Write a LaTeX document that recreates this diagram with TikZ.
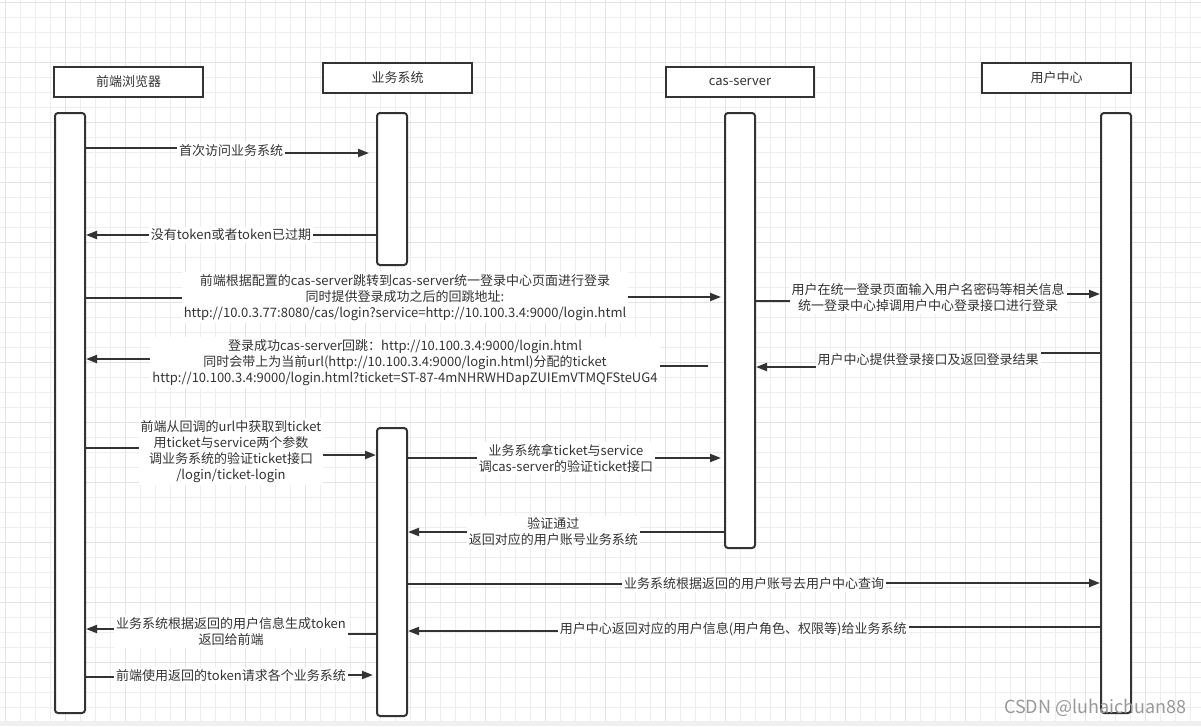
\documentclass[tikz,border=0pt]{standalone}
\usepackage{fontspec}
\setmainfont{Noto Sans CJK SC}
\usepackage{xcolor}
\usepackage{tikz}
\usetikzlibrary{arrows.meta,calc}
\definecolor{ink}{HTML}{333333}
\definecolor{gridmin}{HTML}{EEEEEE}
\definecolor{gridmaj}{HTML}{E3E3E3}
\tikzstyle{head}=[rectangle, draw=ink, fill=white, text=ink,% header box of a lifeline
line width=2pt, minimum width=149pt, minimum height=30pt, font=\fontsize{13}{16}\selectfont]
\tikzstyle{bar}=[rectangle, draw=ink, fill=white, rounded corners=3pt,% activation bar
line width=2pt, minimum width=30pt]
\tikzstyle{msg}=[-{Triangle[length=11pt,width=8pt]}, draw=ink, line width=2pt]
\tikzstyle{lbl}=[fill=white, text=ink, inner sep=2pt, align=center, font=\fontsize{13}{16}\selectfont]

\begin{document}
\begin{tikzpicture}[x=1pt,y=-1pt]
\useasboundingbox (0,0) rectangle (1201,726);
\fill[white] (0,0) rectangle (1201,726);
\foreach \gx in {5,20,...,1200} \draw[gridmin, line width=1pt] (\gx,0) -- (\gx,721);
\foreach \gy in {2,17,...,721} \draw[gridmin, line width=1pt] (0,\gy) -- (1201,\gy);
\foreach \gx in {5,65,...,1200} \draw[gridmaj, line width=1pt] (\gx,0) -- (\gx,721);
\foreach \gy in {2,62,...,721} \draw[gridmaj, line width=1pt] (0,\gy) -- (1201,\gy);
\fill[black!6] (0,721) rectangle (1201,726);
\node[head] (FE) at (128.5,82) {前端浏览器};
\node[head] (BS) at (397.5,77.5) {业务系统};
\node[head, minimum width=148pt] (CAS) at (740,82) {cas-server};
\node[head] (UC) at (1056.5,78) {用户中心};
\node[bar, minimum height=600pt] (feb) at (70,413) {};
\node[bar, minimum height=152pt] (bs1) at (392,189) {};
\node[bar, minimum height=288pt] (bs2) at (392,572) {};
\node[bar, minimum height=435pt] (casb) at (740,330.5) {};
\node[bar, minimum height=600pt] (ucb) at (1116,413) {};
\draw[msg, shorten >=7pt] (feb.east |- 0,148) -| ($(feb.east |- 0,148)!.5!(bs1.west |- 0,153)$)
  node[lbl] {首次访问业务系统} |- (bs1.west |- 0,153);
\draw[msg] (bs1.west |- 0,235) -- (feb.east |- 0,235)
  node[lbl, midway] {没有token或者token已过期};
\draw[msg, shorten >=3pt] (feb.east |- 0,298) -| ($(feb.east |- 0,298)!.5!(casb.west |- 0,297)$)
  node[lbl] {前端根据配置的cas-server跳转到cas-server统一登录中心页面进行登录\\同时提供登录成功之后的回跳地址:\\http://10.0.3.77:8080/cas/login?service=http://10.100.3.4:9000/login.html} |- (casb.west |- 0,297);
\draw[msg, shorten <=16pt] (casb.west |- 0,366) -| ($(casb.west |- 0,366)!.5!(feb.east |- 0,359)$)
  node[lbl] {登录成功cas-server回跳：http://10.100.3.4:9000/login.html\\同时会带上为当前url(http://10.100.3.4:9000/login.html)分配的ticket\\http://10.100.3.4:9000/login.html?ticket=ST-87-4mNHRWHDapZUIEmVTMQFSteUG4} |- (feb.east |- 0,359);
\draw[msg] (casb.east |- 0,301) -| ($(casb.east |- 0,301)!.5!(ucb.west |- 0,294)$)
  node[lbl] {用户在统一登录页面输入用户名密码等相关信息\\统一登录中心掉调用户中心登录接口进行登录} |- (ucb.west |- 0,294);
\draw[msg] (ucb.west |- 0,353) -| ($(ucb.west |- 0,353)!.5!(casb.east |- 0,367)$)
  node[lbl] {用户中心提供登录接口及返回登录结果} |- (casb.east |- 0,367);
\draw[msg] (feb.east |- 0,448) -| ($(feb.east |- 0,448)!.5!(bs2.west |- 0,455)$)
  node[lbl] {前端从回调的url中获取到ticket\\用ticket与service两个参数\\调业务系统的验证ticket接口\\/login/ticket-login} |- (bs2.west |- 0,455);
\draw[msg, shorten >=3pt] (bs2.east |- 0,458) -- (casb.west |- 0,458)
  node[lbl, midway] {业务系统拿ticket与service\\调cas-server的验证ticket接口};
\draw[msg] (casb.west |- 0,532) -- (bs2.east |- 0,532)
  node[lbl, pos=.54] {验证通过\\返回对应的用户账号业务系统};
\draw[msg] (bs2.east |- 0,584) -| ($(bs2.east |- 0,584)!.5!(ucb.west |- 0,583)$)
  node[lbl] {业务系统根据返回的用户账号去用户中心查询} |- (ucb.west |- 0,583);
\draw[msg] (ucb.west |- 0,627) -| ($(ucb.west |- 0,627)!.53!(bs2.east |- 0,631)$)
  node[lbl] {用户中心返回对应的用户信息(用户角色、权限等)给业务系统} |- (bs2.east |- 0,631);
\draw[msg] (bs2.west |- 0,634) -| ($(bs2.west |- 0,634)!.5!(feb.east |- 0,629)$)
  node[lbl] {业务系统根据返回的用户信息生成token\\返回给前端} |- (feb.east |- 0,629);
\draw[msg, shorten >=3pt] (feb.east |- 0,677) -| ($(feb.east |- 0,677)!.5!(bs2.west |- 0,675)$)
  node[lbl] {前端使用返回的token请求各个业务系统} |- (bs2.west |- 0,675);
\node[text=black!40, font=\fontsize{18}{20}\selectfont, anchor=east] (wm) at (1190,708) {CSDN @luhaichuan88};
\end{tikzpicture}
\end{document}
